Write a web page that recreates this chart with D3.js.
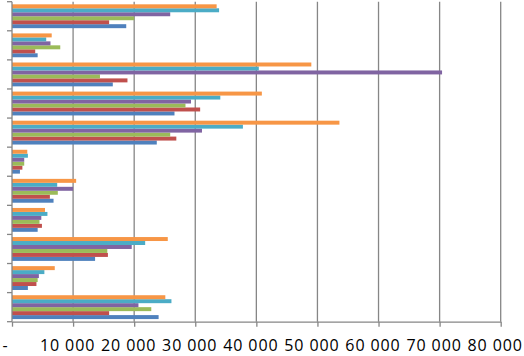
<!DOCTYPE html>
<html>
<head>
<meta charset="utf-8">
<script src="https://cdn.jsdelivr.net/npm/d3@7"></script>
<style>
  body { margin: 0; background: #fff; }
  svg { display: block; }
</style>
</head>
<body>
<svg id="chart"></svg>
<script>
// categories listed from top to bottom as they appear
const categories = ["K", "J", "I", "H", "G", "F", "E", "D", "C", "B", "A"];
// series in drawing order inside a group (first = bottom bar)
const seriesNames = ["S1", "S2", "S3", "S4", "S5", "S6"];
const seriesColors = ["#4F81BD", "#C0504D", "#9BBB59", "#8064A2", "#4BACC6", "#F79646"];

const s1 = [18700, 4200, 16500, 26600, 23700, 1300, 6800, 4200, 13600, 2600, 24000];
const s2 = [15900, 3800, 18900, 30800, 26900, 1700, 6200, 4900, 15700, 4000, 15900];
const s3 = [20000, 7900, 14400, 28400, 25900, 2000, 7500, 4500, 15600, 4200, 22800];
const s4 = [25900, 6300, 70400, 29300, 31100, 2000, 10000, 4800, 19600, 4400, 20700];
const s5 = [33900, 5600, 40400, 34100, 37800, 2600, 7400, 5800, 21800, 5300, 26100];
const s6 = [33500, 6500, 49000, 40900, 53600, 2500, 10500, 5400, 25500, 7000, 25100];
const seriesValues = [s1, s2, s3, s4, s5, s6];

const xTicks = [0, 10000, 20000, 30000, 40000, 50000, 60000, 70000, 80000];

const width = 524, height = 356;
const plotLeft = 12, plotRight = 500.7, plotTop = 1.7, plotBottom = 321.7;

const svg = d3.select("#chart").attr("width", width).attr("height", height);

const x = d3.scaleLinear().domain([0, 80000]).range([plotLeft, plotRight]);
const y = d3.scaleBand().domain(categories).range([plotTop, plotBottom])
  .paddingInner(0.18).paddingOuter(0.09);
const ySeries = d3.scaleBand().domain(d3.range(seriesNames.length))
  .range([y.bandwidth(), 0]);

const gray = "#868686";

// vertical gridlines
svg.append("g")
  .selectAll("line")
  .data(xTicks.slice(1))
  .join("line")
  .attr("x1", d => x(d)).attr("x2", d => x(d))
  .attr("y1", plotTop).attr("y2", plotBottom)
  .attr("stroke", gray).attr("stroke-width", 1.3);

// bars
const groups = svg.append("g")
  .selectAll("g")
  .data(categories)
  .join("g")
  .attr("transform", d => `translate(0,${y(d)})`);

groups.selectAll("rect")
  .data((d, i) => seriesValues.map((vals, s) => ({ s, v: vals[i] })))
  .join("rect")
  .attr("x", x(0))
  .attr("y", d => ySeries(d.s))
  .attr("width", d => x(d.v) - x(0))
  .attr("height", ySeries.bandwidth())
  .attr("fill", d => seriesColors[d.s]);

// y axis with ticks between categories
const yTickPos = categories.map(c => y(c) - y.step() * y.paddingInner() / 2);
yTickPos[0] = plotTop;
yTickPos.push(plotBottom);
svg.append("line")
  .attr("x1", plotLeft).attr("x2", plotLeft).attr("y1", plotTop).attr("y2", plotBottom)
  .attr("stroke", gray).attr("stroke-width", 1.3);
svg.append("g")
  .selectAll("line")
  .data(yTickPos)
  .join("line")
  .attr("x1", plotLeft - 5).attr("x2", plotLeft)
  .attr("y1", d => d).attr("y2", d => d)
  .attr("stroke", gray).attr("stroke-width", 1.3);

// x axis
const xAxis = svg.append("g")
  .attr("transform", `translate(0,${plotBottom})`)
  .call(d3.axisBottom(x).tickValues(xTicks).tickSize(5).tickSizeOuter(0)
    .tickFormat(d => d === 0 ? "-" : d3.format(",")(d).replace(/,/g, " ")));

xAxis.select(".domain").attr("stroke", gray).attr("stroke-width", 1.3);
xAxis.selectAll(".tick line").attr("stroke", gray).attr("stroke-width", 1.3);
xAxis.selectAll(".tick text")
  .attr("fill", "#000")
  .attr("y", 0)
  .attr("dy", 0)
  .attr("dx", d => d === 0 ? -7 : -6)
  .attr("transform", "translate(0,29)")
  .style("font-family", "'Open Sans', sans-serif")
  .style("font-size", "16px")
  .style("letter-spacing", "0.9px");
</script>
</body>
</html>
